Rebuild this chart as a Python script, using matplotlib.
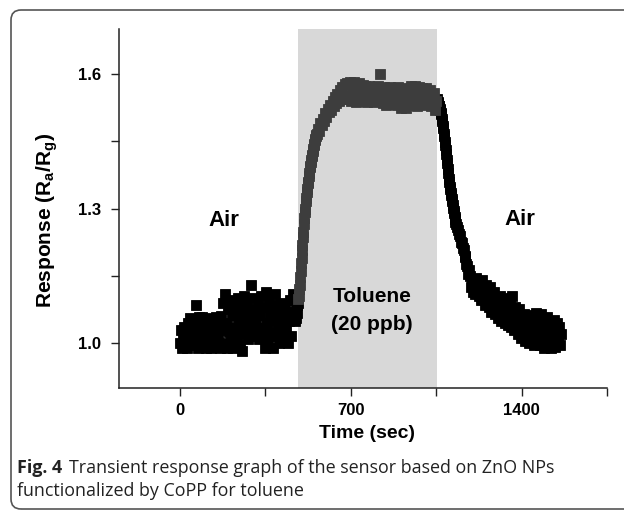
import numpy as np
import matplotlib
matplotlib.use("Agg")
import matplotlib.pyplot as plt
from matplotlib.patches import FancyBboxPatch
from matplotlib.transforms import IdentityTransform

plt.rcParams['font.family'] = ['Liberation Sans', 'DejaVu Sans']
plt.rcParams['mathtext.fontset'] = 'custom'
plt.rcParams['mathtext.bf'] = 'Liberation Sans:bold'
plt.rcParams['mathtext.rm'] = 'Liberation Sans:bold'
plt.rcParams['mathtext.default'] = 'bf'

# ---------------- data ----------------
# baseline in air, every 4 s from 0 s
base_start, base_step = 0, 4
base_y = [1.00, 1.03, 0.99, 1.015, 1.035, 1.005, 1.025,
          0.99, 1.045, 1.005, 1.055, 1.02, 1.035, 0.995,
          1.05, 1.01, 1.085, 1.03, 0.99, 1.058, 1.02,
          1.04, 0.995, 1.058, 1.01, 1.03, 1.045, 0.99,
          1.02, 1.055, 1.005, 1.035, 0.99, 1.05, 1.015,
          1.04, 0.995, 1.058, 1.025, 1.01, 1.045, 0.99,
          1.06, 1.03, 1.09,
          1.00, 1.11, 1.045, 0.99, 1.075, 1.025, 1.095,
          1.01, 1.06, 0.99, 1.085, 1.035, 1.07, 1.015,
          1.10, 1.05, 0.995, 1.08, 1.03, 0.983, 1.065,
          1.105, 1.02, 1.045, 1.09, 1.01, 1.07, 1.035,
          1.13, 1.055, 1.015, 1.10, 1.04, 1.075, 1.025,
          1.09, 1.01, 1.06, 1.105, 1.035, 1.08, 1.02,
          0.99, 1.115, 1.045, 1.005, 1.095, 1.065, 1.025,
          1.085, 0.99, 1.05, 1.11, 1.015, 1.07, 1.035,
          1.00, 1.09, 1.045, 1.02, 1.075, 1.06, 1.005,
          1.085, 1.03, 1.065, 1.00, 1.05, 1.095, 1.015,
          1.07, 1.11]

# fast rise after toluene injection, every 2 s from 470 s
rise_start, rise_step = 470, 2
rise_y = [1.05, 1.065, 1.055, 1.075, 1.068, 1.085, 1.09, 1.098, 1.105, 1.12,
          1.13, 1.148, 1.16, 1.178, 1.19, 1.207, 1.218, 1.236, 1.248, 1.266,
          1.278, 1.292, 1.30, 1.316, 1.323, 1.337, 1.343, 1.357, 1.36, 1.372,
          1.378, 1.392, 1.394, 1.403, 1.408, 1.418, 1.42, 1.432, 1.428, 1.442,
          1.444, 1.452, 1.455, 1.462, 1.463]

# slow rise and plateau, every 5 s from 560 s
plat_start, plat_step = 560, 5
plat_y = [1.465, 1.478, 1.472, 1.49, 1.485, 1.50, 1.495, 1.512, 1.505, 1.522,
          1.515, 1.53, 1.52, 1.54, 1.528, 1.548, 1.535, 1.555, 1.54, 1.565,
          1.545, 1.57, 1.55, 1.578, 1.545, 1.58, 1.55, 1.583, 1.54, 1.575,
          1.56, 1.583, 1.538, 1.57, 1.55, 1.58, 1.54, 1.565, 1.575, 1.545,
          1.572, 1.538, 1.56, 1.574, 1.54, 1.555, 1.57, 1.537, 1.565, 1.55,
          1.574, 1.54, 1.60, 1.56, 1.535, 1.57, 1.548, 1.53, 1.565, 1.545,
          1.57, 1.532, 1.555, 1.568, 1.54, 1.56, 1.53, 1.57, 1.548, 1.525,
          1.565, 1.54, 1.568, 1.523, 1.555, 1.535, 1.565, 1.574, 1.53, 1.56,
          1.545, 1.573, 1.528, 1.555, 1.57, 1.54, 1.568, 1.53, 1.56, 1.545,
          1.568, 1.532, 1.555, 1.565, 1.528, 1.55, 1.557, 1.52, 1.54]

# fast recovery in air, every 2 s from 1055 s
fall_start, fall_step = 1055, 2
fall_y = [1.545, 1.538, 1.536, 1.528, 1.529, 1.52, 1.521, 1.513, 1.51, 1.50,
          1.496, 1.484, 1.479, 1.467, 1.461, 1.449, 1.441, 1.431, 1.421, 1.409,
          1.401, 1.387, 1.379, 1.365, 1.359, 1.349, 1.343, 1.334, 1.331, 1.321,
          1.316, 1.307, 1.301, 1.294, 1.289, 1.281, 1.277, 1.269]

# slowing recovery, every 4 s from 1130 s
slow_start, slow_step = 1130, 4
slow_y = [1.265, 1.258, 1.252, 1.243, 1.238, 1.226, 1.223, 1.212, 1.207, 1.195,
          1.192, 1.176, 1.172, 1.155, 1.162]

# recovery tail, every 4 s from 1190 s
tail_start, tail_step = 1190, 4
tail_y = [1.15, 1.125, 1.14, 1.115, 1.135,
          1.11, 1.145, 1.12, 1.135, 1.105,
          1.13, 1.095, 1.14, 1.11, 1.12,
          1.085, 1.13, 1.10, 1.115, 1.08,
          1.125, 1.07, 1.105, 1.09, 1.115,
          1.065, 1.10, 1.08, 1.055, 1.09,
          1.105, 1.05, 1.075, 1.095, 1.06,
          1.045, 1.085, 1.07, 1.10, 1.04,
          1.065, 1.09, 1.035, 1.105, 1.055,
          1.03, 1.08, 1.045, 1.065, 1.02,
          1.075, 1.04, 1.012, 1.06, 1.028,
          1.065, 1.005, 1.045, 1.02, 1.055,
          1.00, 1.035, 1.063, 1.015, 1.05,
          0.995, 1.04, 1.068, 1.01, 1.028,
          1.055, 0.995, 1.065, 1.02, 1.04,
          0.99, 1.05, 1.012, 1.035, 1.058,
          1.00, 1.025, 1.05, 0.99, 1.04,
          1.015, 1.052, 0.992, 1.03, 1.045,
          1.005, 1.035, 0.995, 1.02]

exposure = (483, 1052)           # toluene on / off (s)
x_ticks = [0, 350, 700, 1050, 1400, 1750]
x_labels = ['0', '', '700', '', '1400', '']
y_ticks = [1.0, 1.15, 1.3, 1.45, 1.6]
y_labels = ['1.0', '', '1.3', '', '1.6']


def times(start, step, vals):
    return start + step * np.arange(len(vals))


t = np.concatenate([times(base_start, base_step, base_y),
                    times(rise_start, rise_step, rise_y),
                    times(plat_start, plat_step, plat_y),
                    times(fall_start, fall_step, fall_y),
                    times(slow_start, slow_step, slow_y),
                    times(tail_start, tail_step, tail_y)])
y = np.concatenate([base_y, rise_y, plat_y, fall_y, slow_y, tail_y])

# ---------------- figure ----------------
W, H, DPI = 624, 511, 100
fig = plt.figure(figsize=(W / DPI, H / DPI), dpi=DPI)
fig.patch.set_facecolor('white')

ax = fig.add_axes([119 / W, 1 - 388 / H, (607 - 119) / W, (388 - 29) / H])
ax.set_xlim(-250, 1750)
ax.set_ylim(0.9, 1.7)

ax.axvspan(exposure[0], exposure[1], color='#d8d8d8', lw=0, zorder=0)

inside = (t >= exposure[0]) & (t <= exposure[1])
ax.plot(t[~inside], y[~inside], ls='none', marker='s', ms=6.5, mew=0.6,
        color='black', mec='black', zorder=2)
ax.plot(t[inside], y[inside], ls='none', marker='s', ms=6.5, mew=0.6,
        color='#3d3d3d', mec='#3d3d3d', zorder=2)

for s in ['top', 'right']:
    ax.spines[s].set_visible(False)
for s in ['left', 'bottom']:
    ax.spines[s].set_linewidth(1.1)
    ax.spines[s].set_color('#222222')

ax.set_xticks(x_ticks)
ax.set_xticklabels(x_labels)
ax.set_yticks(y_ticks)
ax.set_yticklabels(y_labels)
ax.tick_params(axis='both', direction='out', length=6, width=1.0,
               color='#222222', labelsize=12)
ax.tick_params(axis='y', pad=7)
ax.tick_params(axis='x', pad=5)
for lab in ax.get_xticklabels() + ax.get_yticklabels():
    lab.set_fontweight('bold')

ax.text(180, 1.273, 'Air', ha='center', va='center', fontsize=16, fontweight='bold')
ax.text(1392, 1.275, 'Air', ha='center', va='center', fontsize=16, fontweight='bold')
ax.text(788, 1.104, 'Toluene', ha='center', va='center', fontsize=15, fontweight='bold')
ax.text(788, 1.042, '(20 ppb)', ha='center', va='center', fontsize=15, fontweight='bold')

fig.text(367 / W, 1 - 434 / H, 'Time (sec)', ha='center', va='center',
         fontsize=14, fontweight='bold')
fig.text(47 / W, 1 - 220 / H, r'Response (R$_a$/R$_g$)', ha='center', va='center',
         rotation=90, fontsize=15, fontweight='bold')

# caption frame
frame = FancyBboxPatch((11, 2), 660, H - 12, boxstyle='round,pad=0,rounding_size=10',
                       transform=IdentityTransform(), fill=False,
                       edgecolor='#555555', lw=1.2)
fig.add_artist(frame)

cap_font = ['Open Sans', 'DejaVu Sans']
cap_size = 12.9
t1 = fig.text(17 / W, 1 - 468 / H, 'Fig. 4', ha='left', va='center', fontsize=cap_size,
              fontweight='bold', family=cap_font, color='#222222')
fig.canvas.draw()
bb = t1.get_window_extent()
fig.text((bb.x1 + 7) / W, 1 - 468 / H,
         'Transient response graph of the sensor based on ZnO NPs',
         ha='left', va='center', fontsize=cap_size, family=cap_font, color='#222222')
fig.text(17 / W, 1 - 491 / H, 'functionalized by CoPP for toluene',
         ha='left', va='center', fontsize=cap_size, family=cap_font, color='#222222')

fig.savefig('out.png', dpi=DPI, facecolor='white')
